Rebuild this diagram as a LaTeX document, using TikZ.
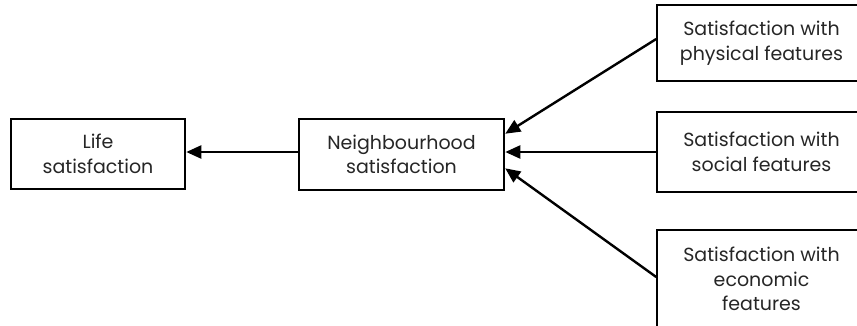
\documentclass[tikz,border=0pt]{standalone}
\usepackage{fontspec}
\setmainfont{Poppins}
\usetikzlibrary{arrows.meta}
\begin{document}
\begin{tikzpicture}[x=1pt,y=1pt,
  box/.style={draw,line width=1.6pt,align=center,inner sep=0pt,text=black!85,font=\fontsize{19}{24.5}\selectfont},
  arr/.style={line width=2.4pt,-{Triangle[length=15pt,width=13pt]},shorten >=0.5pt}]
\useasboundingbox (0,0) rectangle (857,325);
\clip (0,0) rectangle (857,325);
\fill[white] (0,0) rectangle (857,325);
\node[box,minimum width=174pt,minimum height=70pt] (life) at (98,171) {Life\\satisfaction};
\node[box,minimum width=205pt,minimum height=71pt] (neigh) at (401.5,170.5) {Neighbourhood\\satisfaction};
\node[box,minimum width=209pt,minimum height=76pt] (phys) at (761.5,282) {Satisfaction with\\physical features};
\node[box,minimum width=209pt,minimum height=80pt] (soc) at (761.5,173) {Satisfaction with\\social features};
\node[box,minimum width=209pt,minimum height=98pt] (econ) at (761.5,46) {Satisfaction with\\economic\\features};
\draw[arr] ([yshift=4pt]phys.west) -- ([yshift=20.5pt]neigh.east);
\draw[arr] (soc.west) -- ([yshift=2.5pt]neigh.east);
\draw[arr] ([yshift=2pt]econ.west) -- ([yshift=-13.5pt]neigh.east);
\draw[arr] ([yshift=2.5pt]neigh.west) -- ([yshift=2pt]life.east);
\end{tikzpicture}
\end{document}
